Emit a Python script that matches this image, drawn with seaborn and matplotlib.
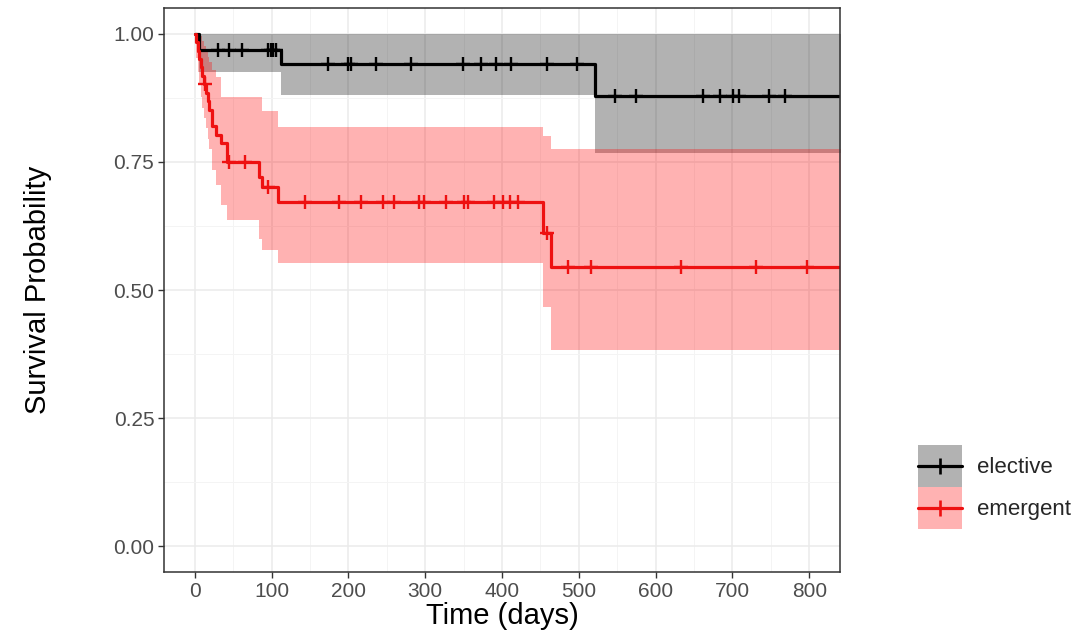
import numpy as np
import pandas as pd
import matplotlib
matplotlib.use("Agg")
import matplotlib.pyplot as plt
from matplotlib.lines import Line2D
from matplotlib.patches import Patch
from matplotlib.ticker import MultipleLocator
from matplotlib.legend_handler import HandlerLine2D
import seaborn as sns

# Kaplan-Meier estimates by admission type (step times in days)
follow_up_end = 860

elective_time = [0, 6, 112, 521]
elective_surv = [1.000, 0.969, 0.940, 0.879]
elective_lower = [1.000, 0.926, 0.880, 0.767]
elective_upper = [1.000, 1.000, 1.000, 1.000]
elective_censor = [30, 45, 62, 95, 99, 102, 106, 173, 199, 204, 236, 282,
                   349, 373, 392, 412, 458, 497, 547, 575, 662, 684, 701,
                   708, 748, 768]

emergent_time = [0, 2, 4, 6, 8, 10, 12, 15, 17, 19, 22, 28, 34, 42,
                 84, 88, 108, 453, 464]
emergent_surv = [1.000, 0.984, 0.967, 0.951, 0.934, 0.918, 0.902, 0.885,
                 0.869, 0.852, 0.820, 0.803, 0.787, 0.750, 0.720, 0.700,
                 0.672, 0.611, 0.545]
emergent_lower = [1.000, 0.953, 0.925, 0.900, 0.876, 0.855, 0.835, 0.815,
                  0.795, 0.775, 0.735, 0.705, 0.665, 0.637, 0.600, 0.578,
                  0.553, 0.467, 0.383]
emergent_upper = [1.000, 1.000, 1.000, 1.000, 0.995, 0.985, 0.975, 0.965,
                  0.955, 0.945, 0.930, 0.915, 0.877, 0.877, 0.877, 0.850,
                  0.818, 0.800, 0.775]
emergent_censor = [14, 45, 65, 95, 143, 188, 217, 245, 260, 292, 299, 327,
                   351, 356, 390, 401, 410, 421, 458, 486, 516, 633, 731, 797]

groups = ["elective", "emergent"]
line_colors = {"elective": "#000000", "emergent": "#ee1111"}
band_colors = {"elective": "#000000", "emergent": "#ff0000"}
band_alpha = 0.30

series = {
    "elective": (elective_time, elective_surv, elective_lower,
                 elective_upper, elective_censor),
    "emergent": (emergent_time, emergent_surv, emergent_lower,
                 emergent_upper, emergent_censor),
}


class CenteredLineHandler(HandlerLine2D):
    """Legend line drawn through the vertical centre of the key box."""

    def create_artists(self, legend, orig_handle, xdescent, ydescent,
                       width, height, fontsize, trans):
        artists = super().create_artists(legend, orig_handle, xdescent,
                                         ydescent, width, height, fontsize,
                                         trans)
        for a in artists:
            if isinstance(a, Line2D):
                a.set_ydata(np.full_like(np.asarray(a.get_xdata(), float),
                                         height / 2 - ydescent))
        return artists


sns.set_theme(style="white")
plt.rcParams["font.family"] = ["Liberation Sans", "DejaVu Sans"]

fig = plt.figure(figsize=(10.83, 6.43), dpi=100)
ax = fig.add_axes([164 / 1083, 1 - 572 / 643, 676 / 1083, 564 / 643])

# grid in the style of theme_bw
ax.set_axisbelow(True)
ax.xaxis.set_major_locator(MultipleLocator(100))
ax.xaxis.set_minor_locator(MultipleLocator(50))
ax.yaxis.set_major_locator(MultipleLocator(0.25))
ax.yaxis.set_minor_locator(MultipleLocator(0.125))
ax.grid(which="major", color="#ebebeb", linewidth=1.1)
ax.grid(which="minor", color="#f4f4f4", linewidth=0.7)

for g in groups:
    t, s, lo, hi, cens = series[g]
    t_ext = np.append(t, follow_up_end)
    s_ext = np.append(s, s[-1])
    lo_ext = np.append(lo, lo[-1])
    hi_ext = np.append(hi, hi[-1])
    ax.fill_between(t_ext, lo_ext, hi_ext, step="post",
                    color=band_colors[g], alpha=band_alpha, linewidth=0)
    df = pd.DataFrame({"time": t_ext, "surv": s_ext})
    sns.lineplot(data=df, x="time", y="surv", ax=ax, estimator=None,
                 sort=False, drawstyle="steps-post",
                 color=line_colors[g], linewidth=2.3)
    idx = np.searchsorted(t, cens, side="right") - 1
    cy = np.asarray(s)[idx]
    sns.scatterplot(x=cens, y=cy, ax=ax, marker="+", s=100,
                    linewidth=1.7, color=line_colors[g], zorder=4)

ax.set_xlim(-40, 840)
ax.set_ylim(-0.05, 1.05)
ax.set_xticks(range(0, 801, 100))
ax.set_yticks([0.0, 0.25, 0.5, 0.75, 1.0])
ax.set_yticklabels(["0.00", "0.25", "0.50", "0.75", "1.00"])

for sp in ax.spines.values():
    sp.set_color("#333333")
    sp.set_linewidth(1.1)
ax.tick_params(which="major", direction="out", length=4, width=1.0,
               color="#333333", labelcolor="#4d4d4d", labelsize=15,
               bottom=True, left=True, pad=3)
ax.tick_params(which="minor", length=0)

ax.set_xlabel("Time (days)", fontsize=21, color="#000000", labelpad=1)
ax.set_ylabel("Survival Probability", fontsize=21, color="#000000",
              labelpad=44)

handles = []
for g in groups:
    patch = Patch(facecolor=band_colors[g], alpha=band_alpha, edgecolor="none")
    line = Line2D([], [], color=line_colors[g], linewidth=2.3, marker="+",
                  markersize=12, markeredgewidth=1.9)
    handles.append((patch, line))

fig.legend(handles, groups, loc="center left",
           bbox_to_anchor=(918 / 1083, 1 - 487 / 643), frameon=False,
           fontsize=16, handlelength=2.0, handleheight=2.5,
           labelspacing=0.0, handletextpad=0.65, borderaxespad=0,
           borderpad=0,
           handler_map={Line2D: CenteredLineHandler(numpoints=1)})

fig.savefig("out.png", dpi=100)
